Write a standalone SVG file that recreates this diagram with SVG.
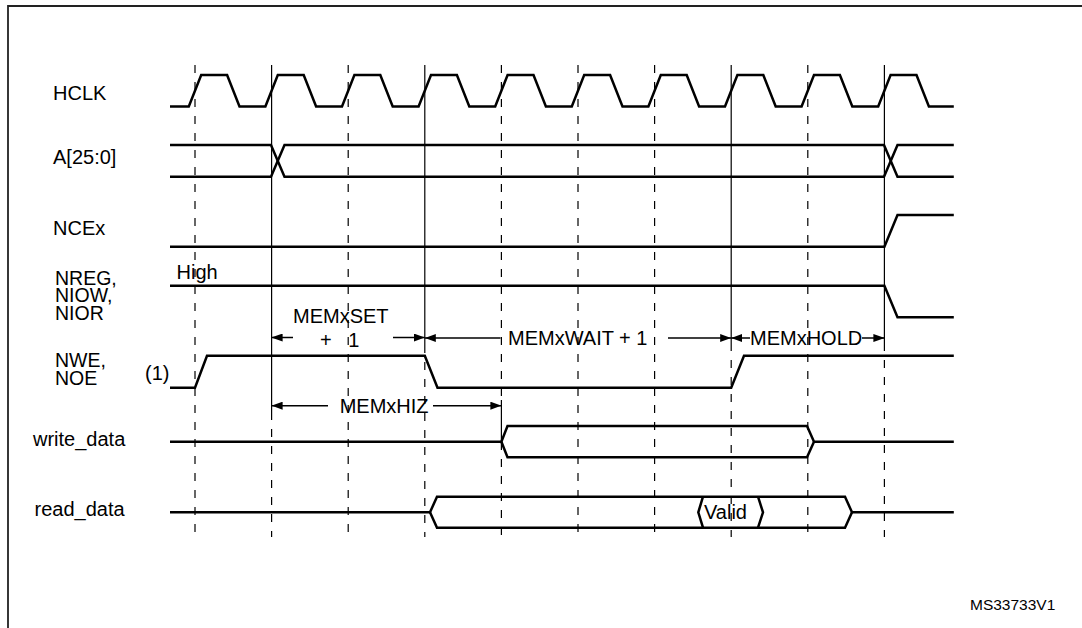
<svg xmlns="http://www.w3.org/2000/svg" width="1082" height="628" viewBox="0 0 1082 628">
<style>
.sig{fill:none;stroke:#000;stroke-width:2.5;stroke-linejoin:miter}
.g{fill:none;stroke:#000;stroke-width:1.2}
.d{fill:none;stroke:#000;stroke-width:1.2;stroke-dasharray:8 9}
.ar{fill:none;stroke:#000;stroke-width:1.5}
text{font-family:"Liberation Sans",Arial,sans-serif;font-size:20px;fill:#000}
.stack{font-size:19.5px}
.small{font-size:15.5px}
</style>
<defs>
<marker id="ah" markerUnits="userSpaceOnUse" markerWidth="11" markerHeight="8" refX="11" refY="4" orient="auto">
<path d="M0,0 L11,4 L0,8 z" fill="#000"/>
</marker>
</defs>
<rect width="1082" height="628" fill="#fff"/>
<path d="M8,628 V6 H1082" fill="none" stroke="#222" stroke-width="1.8"/>

<g id="guides">
<line class="d" x1="195" y1="65" x2="195" y2="537"/>
<line class="g" x1="271.6" y1="65" x2="271.6" y2="412"/>
<line class="d" x1="271.6" y1="412" x2="271.6" y2="537"/>
<line class="d" x1="348.2" y1="65" x2="348.2" y2="537"/>
<line class="g" x1="424.8" y1="65" x2="424.8" y2="345"/>
<line class="d" x1="424.8" y1="345" x2="424.8" y2="537"/>
<line class="d" x1="501.4" y1="65" x2="501.4" y2="400"/>
<line class="g" x1="501.4" y1="400" x2="501.4" y2="442"/>
<line class="d" x1="501.4" y1="442" x2="501.4" y2="537"/>
<line class="d" x1="578" y1="65" x2="578" y2="537"/>
<line class="d" x1="654.6" y1="65" x2="654.6" y2="537"/>
<line class="g" x1="731.2" y1="65" x2="731.2" y2="343"/>
<line class="d" x1="731.2" y1="343" x2="731.2" y2="537"/>
<line class="d" x1="807.8" y1="65" x2="807.8" y2="537"/>
<line class="g" x1="884.4" y1="65" x2="884.4" y2="343"/>
<line class="d" x1="884.4" y1="343" x2="884.4" y2="537"/>
</g>

<g id="hclk">
<text x="53" y="100">HCLK</text>
<path class="sig" d="M170,106.5 L188.8,106.5 L201.2,75 L227.1,75 L239.5,106.5 L265.4,106.5 L277.8,75 L303.7,75 L316.1,106.5 L342,106.5 L354.4,75 L380.3,75 L392.7,106.5 L418.6,106.5 L431,75 L456.9,75 L469.3,106.5 L495.2,106.5 L507.6,75 L533.5,75 L545.9,106.5 L571.8,106.5 L584.2,75 L610.1,75 L622.5,106.5 L648.4,106.5 L660.8,75 L686.7,75 L699.1,106.5 L725,106.5 L737.4,75 L763.3,75 L775.7,106.5 L801.6,106.5 L814,75 L839.9,75 L852.3,106.5 L878.2,106.5 L890.6,75 L916.5,75 L928.9,106.5 L953.8,106.5"/>
</g>

<g id="addr">
<text x="53" y="164">A[25:0]</text>
<path class="sig" d="M170,145 H271 L284.5,176.7 H884 L897.5,145 H953.8"/>
<path class="sig" d="M170,176.7 H271 L284.5,145 H884 L897.5,176.7 H953.8"/>
</g>

<g id="ncex">
<text x="53" y="235">NCEx</text>
<path class="sig" d="M170,246.7 H884.4 L897.5,215 H953.8"/>
</g>

<g id="nreg">
<text class="stack" x="55" y="284.5">NREG,</text>
<text class="stack" x="55" y="302">NIOW,</text>
<text class="stack" x="55" y="319.5">NIOR</text>
<text x="176.5" y="279">High</text>
<path class="sig" d="M170,285.7 H884.4 L897.5,317.3 H953.8"/>
</g>

<g id="nwe">
<text class="stack" x="55" y="367">NWE,</text>
<text class="stack" x="55" y="384.5">NOE</text>
<text x="145" y="379.5">(1)</text>
<path class="sig" d="M170,387.7 H195 L207,355.7 H424.8 L437.5,387.7 H731.2 L744,355.7 H953.8"/>
</g>

<g id="write_data">
<text x="33" y="446">write_data</text>
<path class="sig" d="M170,441.7 H501.4 L507.5,426 H807 L814,441.7 H953.8"/>
<path class="sig" d="M501.4,441.7 L507.5,457.3 H807 L814,441.7"/>
</g>

<g id="read_data">
<text x="34.5" y="516">read_data</text>
<path class="sig" d="M170,512.3 H430 L437,496.7 H845 L852,512.3 H953.8"/>
<path class="sig" d="M430,512.3 L437,527.7 H845 L852,512.3"/>
<path class="sig" d="M703,496.7 L698.3,512.3 L703,527.7"/>
<path class="sig" d="M758,496.7 L763,512.3 L758,527.7"/>
<text x="704" y="519">Valid</text>
</g>

<g id="connectors">
<line class="ar" x1="293" y1="337.5" x2="271.6" y2="337.5" marker-end="url(#ah)"/>
<line class="ar" x1="393" y1="337.5" x2="424.8" y2="337.5" marker-end="url(#ah)"/>
<line class="ar" x1="500.5" y1="338" x2="424.8" y2="338" marker-end="url(#ah)"/>
<line class="ar" x1="668" y1="338" x2="731.2" y2="338" marker-end="url(#ah)"/>
<line class="ar" x1="750" y1="338" x2="731.2" y2="338" marker-end="url(#ah)"/>
<line class="ar" x1="862" y1="338" x2="884.4" y2="338" marker-end="url(#ah)"/>
<line class="ar" x1="328" y1="405.7" x2="271.6" y2="405.7" marker-end="url(#ah)"/>
<line class="ar" x1="433" y1="405.7" x2="501.4" y2="405.7" marker-end="url(#ah)"/>
</g>

<g id="labels">
<text x="293" y="322.7">MEMxSET</text>
<text x="320" y="346.5" word-spacing="11">+ 1</text>
<text x="508" y="344.5">MEMxWAIT + 1</text>
<text x="750" y="344.5">MEMxHOLD</text>
<text x="339.7" y="412.5">MEMxHIZ</text>
<text class="small" x="970" y="610">MS33733V1</text>
</g>
</svg>
